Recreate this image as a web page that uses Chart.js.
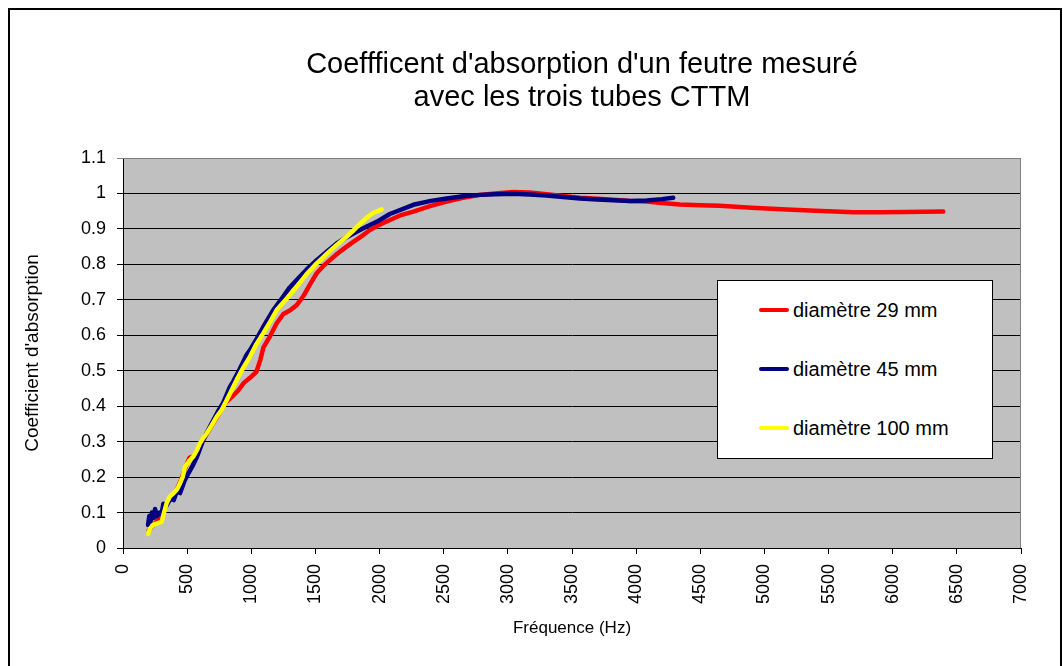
<!DOCTYPE html>
<html><head><meta charset="utf-8">
<script src="https://cdn.jsdelivr.net/npm/chart.js@4.4.1/dist/chart.umd.min.js"></script>
<style>
html,body{margin:0;padding:0;width:1063px;height:666px;overflow:hidden;background:#fff;font-family:"Liberation Sans",Arial,sans-serif;}
#wrap{position:relative;width:1063px;height:666px;}
#chart{position:absolute;left:0;top:0;}
#frame{position:absolute;left:8px;top:8px;width:1054px;height:720px;border:2px solid #000;box-sizing:border-box;pointer-events:none;}
#title{position:absolute;left:282px;top:47px;width:600px;text-align:center;font-size:29px;line-height:33px;color:#000;}
#legend{position:absolute;left:717px;top:280px;width:276px;height:179px;border:1px solid #000;background:#fff;box-sizing:border-box;}
.li{position:absolute;left:0;height:24px;}
.li .sw{position:absolute;left:41px;top:10px;width:30px;height:4px;border-radius:2px;}
.li .tx{position:absolute;left:75px;top:0;font-size:20px;line-height:24px;white-space:nowrap;color:#000;}
</style></head>
<body><div id="wrap">
<canvas id="chart" width="1063" height="666"></canvas>
<div id="title">Coeffficent d'absorption d'un feutre mesuré<br>avec les trois tubes CTTM</div>
<div id="legend"></div>
<div id="frame"></div>
</div>
<script>
// ---- data ----
const seriesLabels = ['diamètre 29 mm', 'diamètre 45 mm', 'diamètre 100 mm'];
const seriesColors = ['#FF0000', '#000080', '#FFFF00'];

const freq29 = [200,250,300,350,400,450,500,520,560,600,650,700,750,800,860,900,940,990,1040,1070,1094,1150,1198,1250,1300,1354,1405,1460,1510,1560,1613,1670,1717,1770,1821,1870,1925,2000,2081,2160,2263,2400,2523,2650,2783,2900,3042,3170,3302,3430,3562,3700,3822,3950,4082,4200,4341,4500,4653,4900,5173,5400,5692,5900,6100,6394];
const abs29  = [0.05,0.07,0.09,0.13,0.15,0.19,0.24,0.255,0.26,0.29,0.32,0.35,0.38,0.41,0.43,0.445,0.465,0.48,0.497,0.53,0.565,0.60,0.634,0.66,0.67,0.685,0.71,0.745,0.775,0.795,0.812,0.83,0.843,0.857,0.87,0.882,0.897,0.912,0.925,0.938,0.949,0.965,0.977,0.988,0.996,1.0,1.004,1.003,0.998,0.993,0.988,0.985,0.982,0.979,0.977,0.973,0.969,0.967,0.965,0.96,0.955,0.951,0.947,0.947,0.948,0.949];

const freq45 = [195,205,215,225,240,250,265,285,300,315,340,370,395,420,445,460,480,509,540,574,600,626,660,704,740,782,834,860,910,964,990,1042,1094,1170,1249,1300,1354,1430,1510,1590,1666,1740,1821,1900,1977,2080,2263,2400,2523,2650,2783,2900,3042,3170,3302,3430,3562,3700,3822,3950,4082,4200,4289];
const abs45  = [0.065,0.09,0.075,0.10,0.085,0.11,0.09,0.10,0.095,0.125,0.12,0.14,0.135,0.16,0.155,0.17,0.19,0.21,0.23,0.255,0.28,0.305,0.33,0.36,0.385,0.41,0.455,0.47,0.505,0.545,0.558,0.59,0.624,0.67,0.709,0.735,0.756,0.785,0.812,0.836,0.859,0.876,0.892,0.907,0.92,0.942,0.968,0.979,0.986,0.992,0.996,0.998,0.999,0.997,0.994,0.99,0.986,0.983,0.981,0.979,0.98,0.984,0.988];

const freq100 = [197,210,236,270,301,320,340,365,392,420,444,465,483,515,548,575,600,625,652,690,730,770,808,860,886,940,990,1040,1094,1150,1198,1280,1354,1430,1510,1590,1666,1740,1800,1850,1900,1950,2016];
const abs100  = [0.04,0.055,0.065,0.07,0.074,0.10,0.126,0.145,0.154,0.165,0.182,0.20,0.229,0.245,0.258,0.275,0.295,0.31,0.323,0.345,0.37,0.39,0.417,0.455,0.474,0.51,0.54,0.575,0.606,0.64,0.671,0.705,0.737,0.772,0.803,0.83,0.855,0.877,0.897,0.915,0.932,0.945,0.955];

const xTickLabels = ['0','500','1000','1500','2000','2500','3000','3500','4000','4500','5000','5500','6000','6500','7000'];
const yTickLabels = ['0','0.1','0.2','0.3','0.4','0.5','0.6','0.7','0.8','0.9','1','1.1'];

// ---- build ----
function pts(xs, ys){ return xs.map((x,i)=>({x:x, y:ys[i]})); }
const allSeries = [pts(freq29,abs29), pts(freq45,abs45), pts(freq100,abs100)];

Chart.defaults.font.family = "'Liberation Sans', Arial, sans-serif";
Chart.defaults.color = '#000';

const plotDeco = {
  id:'plotDeco',
  beforeDraw(chart){
    const a = chart.chartArea, c = chart.ctx;
    c.save(); c.fillStyle = '#C0C0C0'; c.fillRect(a.left, a.top, a.right-a.left, a.bottom-a.top); c.restore();
  },
  afterDraw(chart){
    const a = chart.chartArea, c = chart.ctx;
    c.save(); c.strokeStyle = '#808080'; c.lineWidth = 1;
    c.beginPath(); c.moveTo(a.left, a.top+0.5); c.lineTo(a.right-0.5, a.top+0.5); c.lineTo(a.right-0.5, a.bottom); c.stroke();
    c.restore();
  }
};

new Chart(document.getElementById('chart'), {
  type:'line',
  data:{
    datasets: allSeries.map((d,i)=>({
      label: seriesLabels[i], data: d,
      borderColor: seriesColors[i], backgroundColor: seriesColors[i],
      borderWidth: 4.5, pointRadius: 0, tension: 0, fill:false,
      borderJoinStyle:'round', borderCapStyle:'round',
      order: 2 - i
    }))
  },
  options:{
    responsive:false, animation:false, devicePixelRatio:1,
    layout:{padding:{top:158, right:42, left:0, bottom:0}},
    plugins:{legend:{display:false}, tooltip:{enabled:false}, title:{display:false}},
    scales:{
      x:{
        type:'linear', min:0, max:7000,
        ticks:{stepSize:500, autoSkip:false, maxRotation:90, minRotation:90, padding:10,
               font:{size:18}, color:'#000',
               callback:(v)=>xTickLabels[Math.round(v/500)]},
        grid:{drawOnChartArea:false, drawTicks:true, tickLength:6, color:'#000'},
        border:{display:true, color:'#000', width:1},
        title:{display:true, text:'Fréquence (Hz)', font:{size:17}, color:'#000', padding:{top:0,bottom:27}},
        afterFit:(s)=>{ s.height = 118; }
      },
      y:{
        type:'linear', min:0, max:1.1,
        ticks:{stepSize:0.1, padding:11, font:{size:18}, color:'#000',
               callback:(v)=>yTickLabels[Math.round(v*10)]},
        grid:{color:(ctx)=> (ctx.tick && Math.round(ctx.tick.value*10)===11) ? '#808080' : '#000', tickLength:6, drawTicks:true},
        border:{display:true, color:'#000', width:1},
        title:{display:true, text:"Coefficient d'absorption", font:{size:19}, color:'#000', padding:{top:21,bottom:0}},
        afterFit:(s)=>{ s.width = 123; }
      }
    }
  },
  plugins:[plotDeco]
});

// legend built from the series arrays
const lg = document.getElementById('legend');
const rowsY = [17, 76, 135];
seriesLabels.forEach((lab,i)=>{
  const r = document.createElement('div'); r.className='li'; r.style.top = rowsY[i]+'px'; r.style.width='270px';
  const sw = document.createElement('div'); sw.className='sw'; sw.style.background = seriesColors[i];
  const tx = document.createElement('div'); tx.className='tx'; tx.textContent = lab;
  r.appendChild(sw); r.appendChild(tx); lg.appendChild(r);
});
</script>
</body></html>
